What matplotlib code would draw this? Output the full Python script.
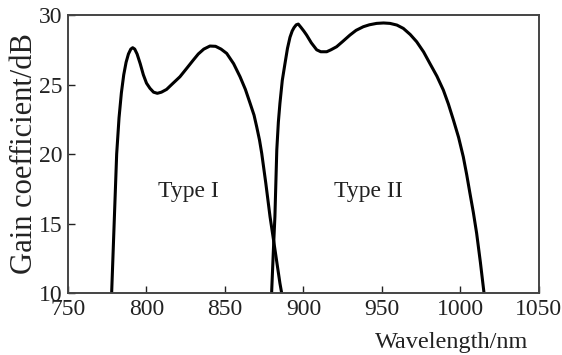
import matplotlib
matplotlib.use("Agg")
import matplotlib.pyplot as plt

plt.rcParams["font.family"] = ["Liberation Serif", "DejaVu Serif"]

# values
type1_wl = [777.8, 779.4, 781.0, 782.5, 784.0, 785.5, 787.0, 788.5, 790.0, 791.2,
            792.5, 794.0, 796.0, 798.0, 800.0, 802.2, 804.5, 806.9, 809.5, 812.8,
            816.5, 821.3, 825.5, 829.8, 833.0, 836.5, 840.4, 844.0, 847.5, 851.1,
            855.5, 859.6, 863.0, 866.0, 868.5, 870.2, 872.0, 873.4, 876.0, 878.7,
            882.0, 885.0, 886.1]
type1_gain = [10.0, 15.0, 20.0, 22.6, 24.4, 25.7, 26.6, 27.2, 27.55, 27.65,
              27.55, 27.2, 26.5, 25.7, 25.1, 24.73, 24.45, 24.37, 24.45, 24.65,
              25.05, 25.56, 26.15, 26.76, 27.2, 27.55, 27.77, 27.75, 27.55, 27.24,
              26.5, 25.56, 24.65, 23.65, 22.8, 21.96, 21.0, 20.05, 17.9, 15.49,
              13.0, 10.7, 10.0]

type2_wl = [879.7, 880.8, 881.8, 883.0, 884.0, 885.0, 886.5, 888.2, 889.8, 891.4,
            892.8, 894.0, 895.4, 896.7, 898.5, 900.2, 902.0, 905.0, 908.4, 911.0,
            914.8, 917.5, 921.1, 925.0, 929.6, 933.5, 938.1, 942.0, 946.6, 951.0,
            955.1, 959.5, 963.6, 968.0, 972.1, 976.5, 980.6, 985.0, 989.1, 992.3,
            995.5, 998.8, 1001.8, 1004.0, 1006.0, 1008.2, 1010.3, 1012.7, 1015.0]
type2_gain = [10.0, 13.0, 15.5, 20.3, 22.3, 23.65, 25.3, 26.5, 27.6, 28.4,
              28.85, 29.1, 29.3, 29.35, 29.1, 28.85, 28.56, 28.0, 27.5, 27.36,
              27.36, 27.5, 27.72, 28.1, 28.56, 28.9, 29.16, 29.3, 29.4, 29.43,
              29.4, 29.28, 29.04, 28.6, 28.08, 27.35, 26.5, 25.6, 24.6, 23.6,
              22.45, 21.2, 19.8, 18.5, 17.2, 15.8, 14.3, 12.2, 10.0]

xticks = [750, 800, 850, 900, 950, 1000, 1050]
yticks = [10, 15, 20, 25, 30]

fig = plt.figure(figsize=(5.62, 3.55), dpi=100)
ax = fig.add_axes([0.121, 0.1746, 0.838, 0.783])

ax.plot(type1_wl, type1_gain, color="black", lw=2.2)
ax.plot(type2_wl, type2_gain, color="black", lw=2.2)

ax.text(826.6, 17.3, "Type I", ha="center", va="center", fontsize=17, color="#222222")
ax.text(941.3, 17.3, "Type II", ha="center", va="center", fontsize=17, color="#222222")

ax.set_xlim(750, 1050)
ax.set_ylim(10, 30)
ax.set_xticks(xticks)
ax.set_yticks(yticks)
ax.tick_params(direction="in", length=5, width=1, labelsize=17,
               top=False, right=False, colors="#222222")
ax.tick_params(axis="x", pad=4)
ax.tick_params(axis="y", pad=4)
for s in ax.spines.values():
    s.set_color("#444444")
    s.set_linewidth(1.4)

ax.set_ylabel("Gain coefficient/dB", fontsize=22, color="#222222")
ax.yaxis.set_label_coords(-0.062, 0.5)
fig.text(0.941, 0.02, "Wavelength/nm", ha="right", va="baseline", fontsize=17.5, color="#222222")

fig.savefig("out.png", dpi=100)
